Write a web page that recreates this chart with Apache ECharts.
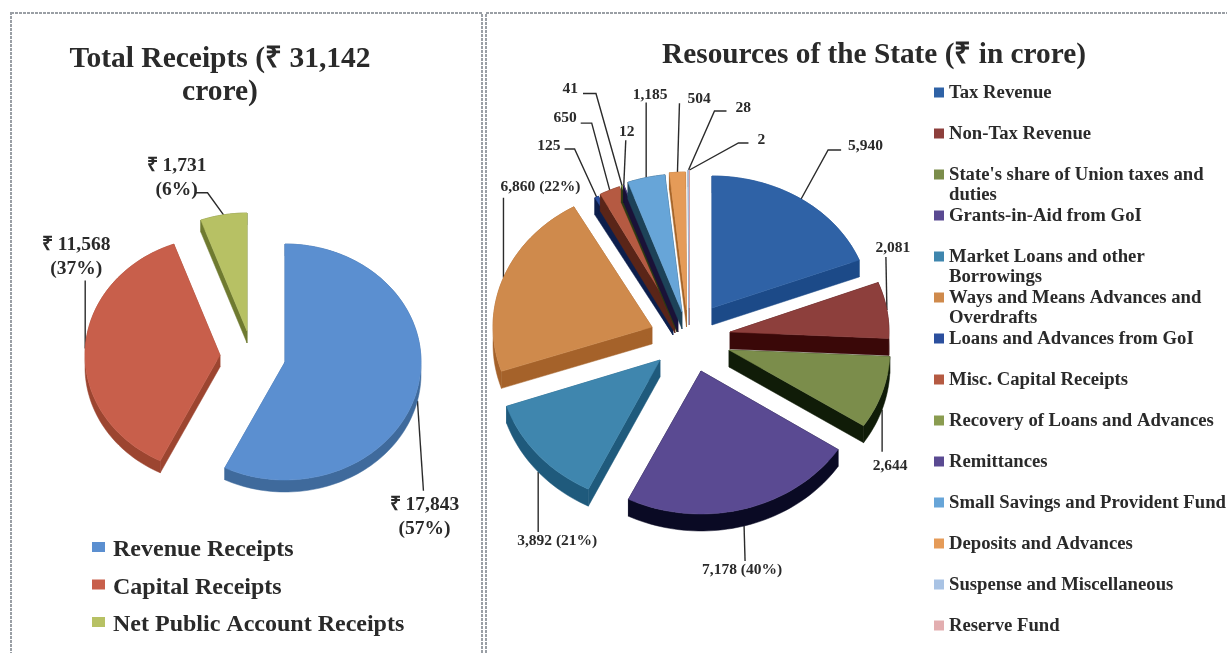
<!DOCTYPE html>
<html>
<head>
<meta charset="utf-8">
<style>html,body{margin:0;padding:0;background:#fff}#chart{width:1227px;height:653px}</style>
<script src="https://cdn.jsdelivr.net/npm/echarts@6/dist/echarts.min.js"></script>
</head>
<body>
<div id="chart"></div>
<script>
// Receipts, in crore of rupees
const receiptNames = ['Revenue Receipts', 'Capital Receipts', 'Net Public Account Receipts'];
const receiptValues = [17843, 11568, 1731];
const receiptLabels = ['₹ 17,843\n(57%)', '₹ 11,568\n(37%)', '₹ 1,731\n(6%)'];

// Resources of the State, in crore of rupees
const resourceNames = [
  'Tax Revenue', 'Non-Tax Revenue', "State's share of Union taxes and\nduties",
  'Grants-in-Aid from GoI', 'Market Loans and other\nBorrowings',
  'Ways and Means Advances and\nOverdrafts', 'Loans and Advances from GoI',
  'Misc. Capital Receipts', 'Recovery of Loans and Advances', 'Remittances',
  'Small Savings and Provident Fund', 'Deposits and Advances',
  'Suspense and Miscellaneous', 'Reserve Fund'
];
const resourceValues = [5940, 2081, 2644, 7178, 3892, 6860, 125, 650, 41, 12, 1185, 504, 28, 2];
const resourceLabels = [
  '5,940', '2,081', '2,644', '7,178 (40%)', '3,892 (21%)', '6,860 (22%)',
  '125', '650', '41', '12', '1,185', '504', '28', '2'
];

const receiptColors = [
  {top: '#5b8fd0', side: '#3f6a9c'},
  {top: '#c85f4b', side: '#9c4530'},
  {top: '#b7c164', side: '#6f7a30'}
];
const resourceColors = [
  {top: '#2f62a6', side: '#1c4a88'},
  {top: '#8d3f3c', side: '#3a0808'},
  {top: '#7b8d4b', side: '#101c08'},
  {top: '#5a4a92', side: '#0a0a24'},
  {top: '#3f86ae', side: '#1f5a7c'},
  {top: '#cf8a4c', side: '#a5622a'},
  {top: '#2b4f9e', side: '#0d1f4c'},
  {top: '#b55a42', side: '#5a2518'},
  {top: '#8a9c50', side: '#2c3a14'},
  {top: '#5a4a92', side: '#1a1238'},
  {top: '#67a5d8', side: '#1d4258'},
  {top: '#e59b58', side: '#a56428'},
  {top: '#a9c3e4', side: '#7088a8'},
  {top: '#e3aeb0', side: '#a87678'}
];

// Exploded wedge geometry: each slice has its own apex and elliptical radii; depth is the extrusion
const receiptPie = {
  depth: 12,
  apex: [[285, 362], [220, 355], [247, 331]],
  radii: [[136, 118], [135, 118], [135, 118]]
};
const resourcePie = {
  depth: 17,
  apex: [[712, 308], [730, 332], [729, 350], [701, 371], [660, 360], [652, 327],
         [673, 318], [675, 316], [677, 315], [678, 315], [682, 312], [686.5, 310], [689, 308], [689.5, 308]],
  radii: [[158, 132], [159, 136], [161, 138], [164, 143], [162, 144], [159, 138],
          [159, 138], [159, 138], [159, 138], [159, 138], [159, 138], [159, 138], [159, 138], [159, 138]]
};

// Leader routes relative to the slice's rim point; "text" is the label's offset from the route's end
const receiptLeaders = [
  {path: [[6, 90]], text: [1, 26], align: 'center'},
  {path: [[0, -68]], text: [-9, -24], align: 'center'},
  {path: [[-16, -22], [-28, -22]], text: [-19, -15], align: 'center'}
];
const resourceLeaders = [
  {path: [[27, -49], [40, -49]], text: [7, -4], align: 'left'},
  {path: [[-1, -53]], text: [7, -9], align: 'center'},
  {path: [[0, 42]], text: [8, 14], align: 'center'},
  {path: [[1, 35]], text: [-3, 9], align: 'center'},
  {path: [[0, 60]], text: [19, 9], align: 'center'},
  {path: [[0, -80]], text: [37, -11], align: 'center'},
  {path: [[-22, -48], [-32, -48]], text: [-4, -3], align: 'right'},
  {path: [[-18, -67], [-29, -67]], text: [-4, -5], align: 'right'},
  {path: [[-26, -92], [-39, -92]], text: [-5, -5], align: 'right'},
  {path: [[2, -45]], text: [1, -8], align: 'center'},
  {path: [[0, -75]], text: [4, -8], align: 'center'},
  {path: [[2, -69]], text: [8, -4], align: 'left'},
  {path: [[26, -59], [38, -59]], text: [9, -3], align: 'left'},
  {path: [[49, -27], [59, -27]], text: [9, -3], align: 'left'}
];

const FONT = '"Liberation Serif", serif';
const INK = '#2a2a2a';

// Sweep angles (clockwise from twelve o'clock, in radians) for a list of values
function sweeps(values) {
  const total = values.reduce((a, b) => a + b, 0);
  let run = 0;
  return values.map(v => {
    const start = run / total * Math.PI * 2;
    run += v;
    return [start, run / total * Math.PI * 2];
  });
}

// One custom series per slice, so the legend can pick each one up by name
function pieSeries(names, values, labels, colors, pie, leaders, opts) {
  const spans = sweeps(values);
  const fontSize = opts.labelSize;
  return names.map((name, i) => ({
    type: 'custom',
    name: name,
    coordinateSystem: 'none',
    silent: true,
    z: 2,
    itemStyle: {color: colors[i].top},
    data: [{name: name, value: values[i]}],
    renderItem: () => {
      const [cx, cy] = pie.apex[i];
      const [rx, ry] = pie.radii[i];
      const [a0, a1] = spans[i];
      const rim = a => [cx + rx * Math.sin(a), cy - ry * Math.cos(a)];
      const drop = p => [p[0], p[1] + pie.depth];
      const n = Math.max(2, Math.ceil((a1 - a0) / 0.03));
      const arc = [];
      for (let k = 0; k <= n; k++) arc.push(rim(a0 + (a1 - a0) * k / n));
      const centre = [cx, cy];
      const poly = (points, fill) => ({
        type: 'polygon', shape: {points: points},
        style: {fill: fill, stroke: fill, lineWidth: 0.5}
      });
      const kids = [];
      // Leader line from the rim at the slice's mid angle
      const mid = (a0 + a1) / 2;
      let tip = rim(mid);
      if (Math.cos(mid) < 0) tip = drop(tip);
      const lead = leaders[i];
      const route = [tip].concat(lead.path.map(d => [tip[0] + d[0], tip[1] + d[1]]));
      kids.push({
        type: 'polyline', shape: {points: route},
        style: {fill: null, stroke: '#2b2b2b', lineWidth: 1.4}
      });
      const end = route[route.length - 1];
      kids.push({
        type: 'text',
        style: {
          x: end[0] + lead.text[0], y: end[1] + lead.text[1], text: labels[i],
          font: 'bold ' + fontSize + 'px ' + FONT, fill: INK,
          align: lead.align, verticalAlign: 'middle', lineHeight: opts.labelLine
        }
      });
      // Extruded body first, top face last
      kids.push(poly([centre, arc[0], drop(arc[0]), drop(centre)], colors[i].side));
      kids.push(poly([centre, arc[n], drop(arc[n]), drop(centre)], colors[i].side));
      kids.push(poly(arc.concat(arc.slice().reverse().map(drop)), colors[i].side));
      kids.push(poly([centre].concat(arc), colors[i].top));
      return {type: 'group', children: kids};
    }
  }));
}

const series = [
  ...pieSeries(receiptNames, receiptValues, receiptLabels, receiptColors, receiptPie, receiptLeaders, {labelSize: 19.5, labelLine: 24}),
  ...pieSeries(resourceNames, resourceValues, resourceLabels, resourceColors, resourcePie, resourceLeaders, {labelSize: 15.5, labelLine: 18})
];

const RES_ROW_TOP = 84;
const RES_ROW_PITCH = 41;
const RES_TEXT_X = 950;
const RES_SIZE = 18.7;

// Every legend row sits on a fixed pitch; only a wrapped name's first line stays beside its key
const legends = [
  ...receiptNames.map((name, i) => ({
    data: [name], left: 92, top: 538 + i * 37.5, orient: 'vertical', selectedMode: false,
    icon: 'rect', itemWidth: 13, itemHeight: 10, itemGap: 0, padding: 0,
    formatter: n => '{t|' + n + '}',
    textStyle: {
      fontFamily: FONT, fontWeight: 'bold', fontSize: 24, color: INK,
      rich: {t: {fontFamily: FONT, fontWeight: 'bold', fontSize: 24, color: INK, padding: [6, 0, 0, 3]}}
    }
  })),
  ...resourceNames.map((name, i) => ({
    data: [name], left: 934, top: RES_ROW_TOP + i * RES_ROW_PITCH, orient: 'vertical', selectedMode: false,
    icon: 'rect', itemWidth: 10, itemHeight: 10, itemGap: 0, padding: 0,
    formatter: n => '{t|' + n.split('\n')[0] + '}',
    textStyle: {
      fontFamily: FONT, fontWeight: 'bold', fontSize: RES_SIZE, color: INK,
      rich: {t: {fontFamily: FONT, fontWeight: 'bold', fontSize: RES_SIZE, color: INK, padding: [2, 0, 0, 0]}}
    }
  }))
];

// Wrapped legend names continue on a line of their own under the key's row
const continuationLines = resourceNames.flatMap((name, i) => {
  const parts = name.split('\n');
  if (parts.length < 2) return [];
  return [{
    type: 'text', z: 3,
    style: {
      x: RES_TEXT_X - 1, y: RES_ROW_TOP + i * RES_ROW_PITCH + 29, text: parts[1],
      font: 'bold ' + RES_SIZE + 'px ' + FONT, fill: INK, verticalAlign: 'middle'
    }
  }];
});

const chart = echarts.init(document.getElementById('chart'), null, {renderer: 'canvas'});
chart.setOption({
  animation: false,
  backgroundColor: '#ffffff',
  title: [
    {
      text: 'Total Receipts (₹ 31,142\ncrore)', left: 215, top: 38, textAlign: 'center',
      textStyle: {fontFamily: FONT, fontWeight: 'bold', fontSize: 29.5, lineHeight: 33, color: INK}
    },
    {
      text: 'Resources of the State (₹ in crore)', left: 869, top: 36, textAlign: 'center',
      textStyle: {fontFamily: FONT, fontWeight: 'bold', fontSize: 29.3, color: INK}
    }
  ],
  legend: legends,
  series: series,
  graphic: [
    {type: 'rect', z: 0, shape: {x: 11, y: 13, width: 471, height: 660},
     style: {fill: null, stroke: '#9a9fa5', lineWidth: 2, lineDash: [3, 1]}},
    {type: 'rect', z: 0, shape: {x: 486, y: 13, width: 760, height: 660},
     style: {fill: null, stroke: '#9a9fa5', lineWidth: 2, lineDash: [3, 1]}},
    ...continuationLines
  ]
});
</script>
</body>
</html>
